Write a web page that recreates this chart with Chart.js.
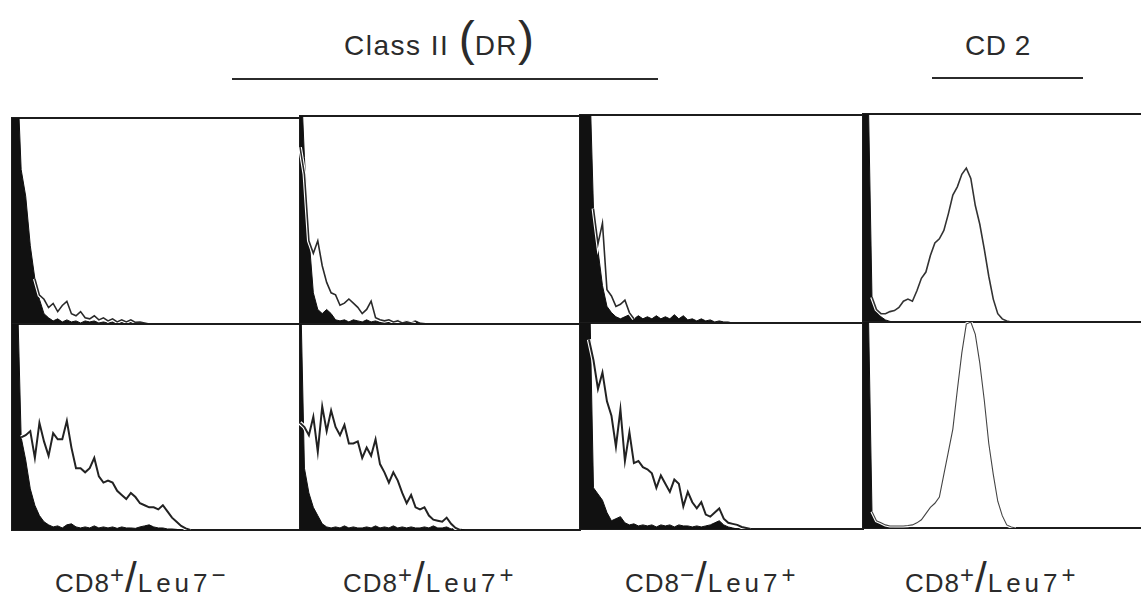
<!DOCTYPE html>
<html><head><meta charset="utf-8">
<script src="https://cdn.jsdelivr.net/npm/chart.js@4.4.1/dist/chart.umd.min.js"></script>
<style>
html,body{margin:0;padding:0;background:#fff;width:1141px;height:615px;overflow:hidden;position:relative;font-family:"Liberation Sans",Arial,sans-serif;color:#2b2b2b;}
canvas{position:absolute;}
.t{position:absolute;white-space:nowrap;}
.par{display:inline-block;line-height:0;font-size:48px;letter-spacing:0;}
.rule{position:absolute;height:2px;background:#2b2b2b;}
.lab{position:absolute;white-space:nowrap;font-size:26px;line-height:26px;top:570px;letter-spacing:1px;}
.lab sup{font-size:24px;line-height:0;vertical-align:9px;letter-spacing:0;}
.lab .sl{display:inline-block;line-height:0;font-size:42px;margin:0 1px;letter-spacing:0;}
.lab .sp{letter-spacing:4px;}
</style></head>
<body>
<div class="t" style="left:344px;top:32px;font-size:28px;line-height:28px;letter-spacing:1.5px">Class II <span class="par">(</span>DR<span class="par">)</span></div>
<div class="rule" style="left:232px;top:78px;width:426px"></div>
<div class="t" style="left:965px;top:32px;font-size:28px;line-height:28px;letter-spacing:0.5px">CD 2</div>
<div class="rule" style="left:932px;top:77px;width:151px"></div>

<div class="lab" style="left:55px">CD8<sup>+</sup><span class="sl">/</span><span class="sp">Leu7</span><sup>−</sup></div>
<div class="lab" style="left:343px">CD8<sup>+</sup><span class="sl">/</span><span class="sp">Leu7</span><sup>+</sup></div>
<div class="lab" style="left:625px">CD8<sup>−</sup><span class="sl">/</span><span class="sp">Leu7</span><sup>+</sup></div>
<div class="lab" style="left:905px">CD8<sup>+</sup><span class="sl">/</span><span class="sp">Leu7</span><sup>+</sup></div>

<script>
// ---- data: fluorescence channel bins (log scale, 64 bins of 4 channels) ----
const channels = Array.from({length: 64}, (_, i) => i * 4);

// Row 1 / Row 2, columns: CD8+/Leu7- (DR), CD8+/Leu7+ (DR), CD8-/Leu7+ (DR), CD8+/Leu7+ (CD2)
// control (filled black) and stained (outline) histograms, relative cell counts (0-100 = panel height)
const ctrl_r1c1  = [130,130,75,62,38,22,12,5,3,1.5,2.5,1,2,1,1.5,0.5,1.5,1,1.5,0.5,1,0.5,1,0.3,0.8,0.3,1,0.5,0.5,0.3,0];
const stain_r1c1 = [null,null,null,null,null,22,14,12,8,10,6,9,11,5,4,6,3,2.5,4,2,3,1.5,2.5,1,2,1,2,0.8,1,0.5,0];

const ctrl_r2c1  = [130,130,45,34,20,12,7,4,2.5,1.5,2,1,2.5,3,1.5,1,1.5,1,2,1,1.5,1,1.5,0.8,1.5,1,1,0.8,1.5,2,2.5,1.5,1,1,0.5,0.5,0.3,0];
const stain_r2c1 = [null,null,45,46,48,35,52,43,36,47,44,44,53,40,30,30,28,30,35,26,23,24,23,19,17,15,18,16,13,12,11,11,10,12,9,6,4,2,0.8,0];

const ctrl_r1c2  = [130,80,42,15,7,5,7,5,2,1.5,2,1,2,1.5,1,2,1,1.5,1,1.5,1.5,1,2,1,1.5,1,1.5,0.5,0.3,0];
const stain_r1c2 = [85,72,40,34,40,28,20,15,14,9,10,12,10,8,5,7,11,3,2,1.5,2,1,1.5,0.5,1,0.5,0];

const ctrl_r2c2  = [130,30,18,11,7,3,1.5,1,1.5,1,2,1,1.5,1,1,1.5,1,2,1,1.5,1,2,1,1.5,1,1.5,1,1,1.5,1,2,1,1,1.5,0.5,1,0.5,0];
const stain_r2c2 = [52,50,46,55,38,60,48,58,50,46,51,42,42,43,35,40,36,44,32,28,23,28,24,18,13,17,11,10,11,7,5,4.5,4,6,3,1,0];

const ctrl_r1c3  = [130,130,130,55,35,18,8,5,3,2,3,4,2,3.5,2,3,2,3.5,2,3,2,4,2,3.5,1.5,2,1,2,1,1.5,0.5,1,0.5,0.5,0];
const stain_r1c3 = [null,null,null,55,38,48,16,13,8,9,11,5,2];

const ctrl_r2c3  = [130,130,130,20,17,14,8,4,5,6,3,2,2.5,1.5,2,1.5,2,1,2,1.5,2,1,2,1.5,1.5,1,1.5,1,1.5,2,3,4,2,1,0.5,0];
const stain_r2c3 = [null,null,92,82,68,76,62,55,40,58,33,47,32,33,30,29,27,20,26,22,18,24,22,11,18,13,10,13,7,6,8,10,5,3,2.5,2,1,0.5,0];

const ctrl_r1c4  = [130,130,12,5,2.5,1,0.3,0];
const stain_r1c4 = [null,null,12,6,4,4,5,5.5,7,10,11,10,15,21,24,32,38,40,44,52,61,65,71,74,69,56,47,35,22,11,4,1.5,0.5,0];

const ctrl_r2c4  = [130,130,8,3.5,2,1,0.5,0];
const stain_r2c4 = [null,null,8,3.5,2.5,1.5,1,1,1,1,1.2,1.5,2.5,4,7,10,12,15,26,37,48,67,85,99,100,94,80,62,41,26,13,6,1.5,0.5,0];

// ---- layout (pixels) ----
const colEdges = [12, 300, 580, 863, 1146];
const rowTop = [118, 116, 115, 114];
const rowMid = [324, 324, 323, 322];
const rowBot = [530, 530, 529, 528];
const PAD = 6;
const INK = '#1c1c1c';

const panels = [
  {r:0,c:0,ctrl:ctrl_r1c1,stain:stain_r1c1,w:1.6,col:'#2a2a2a'},
  {r:0,c:1,ctrl:ctrl_r1c2,stain:stain_r1c2,w:1.6,col:'#2a2a2a'},
  {r:0,c:2,ctrl:ctrl_r1c3,stain:stain_r1c3,w:1.6,col:'#2a2a2a'},
  {r:0,c:3,ctrl:ctrl_r1c4,stain:stain_r1c4,w:1.6,col:'#333'},
  {r:1,c:0,ctrl:ctrl_r2c1,stain:stain_r2c1,w:2,col:'#222'},
  {r:1,c:1,ctrl:ctrl_r2c2,stain:stain_r2c2,w:2,col:'#222'},
  {r:1,c:2,ctrl:ctrl_r2c3,stain:stain_r2c3,w:2,col:'#222'},
  {r:1,c:3,ctrl:ctrl_r2c4,stain:stain_r2c4,w:1.1,col:'#444'},
];

function edgeScale(pos, type){
  return {type: type, position: pos, display: true, z: 1,
    grid: {display: false, drawTicks: false},
    ticks: {display: false},
    border: {display: true, color: INK, width: 2}};
}

panels.forEach(p => {
  const x0 = colEdges[p.c], x1 = colEdges[p.c + 1];
  const y0 = p.r === 0 ? rowTop[p.c] : rowMid[p.c];
  const y1 = p.r === 0 ? rowMid[p.c] : rowBot[p.c];
  const cv = document.createElement('canvas');
  cv.width = (x1 - x0) + 2 * PAD;
  cv.height = (y1 - y0) + 2 * PAD;
  cv.style.left = (x0 - PAD) + 'px';
  cv.style.top = (y0 - PAD) + 'px';
  document.body.appendChild(cv);
  const xs = edgeScale('bottom', 'category'); xs.offset = false;
  const ys = edgeScale('left', 'linear'); ys.min = 0; ys.max = 100;
  new Chart(cv, {
    type: 'line',
    data: {
      labels: channels,
      datasets: [
        {data: p.stain, xAxisID:'x', yAxisID:'y', borderColor: p.col, borderWidth: p.w, fill: false, pointRadius: 0, tension: 0},
        {data: p.stain, xAxisID:'x', yAxisID:'y', borderColor: '#fff', borderWidth: p.w + 2.2, fill: false, pointRadius: 0, tension: 0},
        {data: p.ctrl, xAxisID:'x', yAxisID:'y', borderColor: '#111', backgroundColor: '#111', borderWidth: 1, fill: 'origin', pointRadius: 0, tension: 0}
      ]
    },
    options: {
      responsive: false, animation: false, devicePixelRatio: 1,
      layout: {padding: PAD},
      plugins: {legend: {display: false}, tooltip: {enabled: false}},
      scales: {
        x: xs,
        y: ys,
        xTop: edgeScale('top', 'linear'),
        yRight: edgeScale('right', 'linear')
      }
    }
  });
});
</script>
</body></html>
